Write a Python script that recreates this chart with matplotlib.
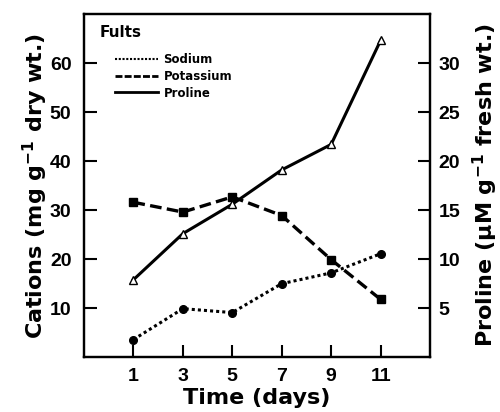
import numpy as np
import matplotlib.pyplot as plt
from matplotlib.lines import Line2D

plt.rcParams['font.family'] = ['Liberation Sans', 'DejaVu Sans']
plt.rcParams['font.weight'] = 'bold'
plt.rcParams['mathtext.default'] = 'regular'

days = [1, 3, 5, 7, 9, 11]
sodium = [3.6, 9.9, 9.1, 15.0, 17.2, 21.1]
potassium = [31.6, 29.6, 32.7, 28.9, 19.9, 11.8]
proline = [7.9, 12.6, 15.6, 19.1, 21.7, 32.3]

left_ticks = [10, 20, 30, 40, 50, 60]
right_ticks = [5, 10, 15, 20, 25, 30]

fig = plt.figure(figsize=(5, 4.12), dpi=100)
ax = fig.add_axes([0.168, 0.133, 0.692, 0.833])
ax2 = ax.twinx()

ax.plot(days, sodium, color='black', linestyle=(0, (1, 1)), lw=2.2,
        marker='o', ms=5.5, mfc='black')
ax.plot(days, potassium, color='black', linestyle=(0, (3.5, 1.6)), lw=2.4,
        marker='s', ms=5.5, mfc='black')
ax2.plot(days, proline, color='black', linestyle='-', lw=2.2,
         marker='^', ms=5.5, mfc='white', mew=1)

ax.set_xlim(-1, 13)
ax.set_ylim(0, 70)
ax2.set_ylim(0, 35)
ax.set_xticks(days)
ax.set_yticks(left_ticks)
ax2.set_yticks(right_ticks)

for a in (ax, ax2):
    for s in a.spines.values():
        s.set_linewidth(1.6)
    a.tick_params(direction='in', length=9, width=1.5, labelsize=14)
ax.tick_params(axis='y', pad=9)
ax.tick_params(axis='x', pad=8)
ax2.tick_params(axis='y', pad=6)

lab = dict(fontsize=16, fontweight='bold', family='DejaVu Sans')
ax.set_xlabel('Time (days)', labelpad=2, **lab)
ax.set_ylabel('Cations (mg g$^{-1}$ dry wt.)', labelpad=0, **lab)
ax2.set_ylabel('Proline (\u03bcM g$^{-1}$ fresh wt.)', labelpad=8, **lab)

ax.text(0.046, 0.945, 'Fults', transform=ax.transAxes, ha='left', va='center',
        fontsize=11, fontweight='bold', family='DejaVu Sans')

handles = [
    Line2D([], [], color='black', linestyle=(0, (1, 0.8)), lw=1.5),
    Line2D([], [], color='black', linestyle=(0, (2.5, 0.8)), lw=2),
    Line2D([], [], color='black', linestyle='-', lw=2),
]
leg = ax.legend(handles, ['Sodium', 'Potassium', 'Proline'],
                loc='upper left', bbox_to_anchor=(0.09, 0.885), frameon=False,
                prop={'size': 8.5, 'weight': 'bold', 'family': 'DejaVu Sans'},
                handlelength=3.6, handletextpad=0.5, labelspacing=0.3,
                borderpad=0, borderaxespad=0)

fig.savefig('out.png', dpi=100)
